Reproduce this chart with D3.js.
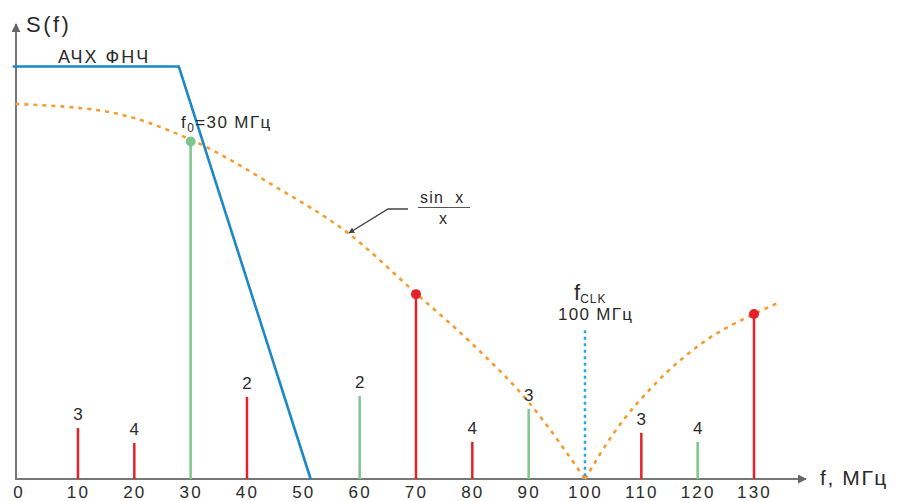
<!DOCTYPE html>
<html>
<head>
<meta charset="utf-8">
<script src="https://cdn.jsdelivr.net/npm/d3@7/dist/d3.min.js"></script>
<style>
  body { margin: 0; background: #fff; }
  svg { display: block; font-family: "Liberation Sans", Arial, sans-serif; }
</style>
</head>
<body>
<div id="chart"></div>
<script>
// ticks on the frequency axis, MHz
const tickFreq = [0, 10, 20, 30, 40, 50, 60, 70, 80, 90, 100, 110, 120, 130];

// spectral lines (relative amplitude, 1 = sin x / x at f = 0)
const stemFreq  = [10, 20, 30, 40, 60, 70, 80, 90, 110, 120, 130];
const stemValue = [0.136, 0.096, 0.90, 0.219, 0.221, 0.493, 0.099, 0.187, 0.123, 0.099, 0.44];
const stemKind  = ["r", "r", "g", "r", "g", "r", "r", "g", "r", "g", "r"];
const stemLabel = ["3", "4", "", "2", "2", "", "4", "3", "3", "4", ""];
const stemDot   = [false, false, true, false, false, true, false, false, false, false, true];

// sin x / x envelope
const sincFreq  = [-1.1, 15, 30, 45, 58, 70, 80, 90, 100, 105, 113, 122, 130, 134];
const sincValue = [1.0, 0.98, 0.905, 0.78, 0.655, 0.495, 0.36, 0.205, 0, 0.12, 0.262, 0.375, 0.44, 0.468];

// low-pass filter response (АЧХ ФНЧ)
const lpfFreq  = [-1.6, 27.9, 51.3];
const lpfValue = [1.1, 1.1, 0];

// clock marker
const clkFreq = 100;
const clkTop = 0.397;

const W = 898, H = 501;
const colors = { r: "#e3222a", g: "#7dc78f" };
const ink = "#2b2b2b";

const x = d3.scaleLinear().domain([-1, 130]).range([16, 754]);
const y = d3.scaleLinear().domain([0, 1]).range([479, 104]);

const svg = d3.select("#chart").append("svg").attr("width", W).attr("height", H);

const defs = svg.append("defs");
defs.append("marker")
  .attr("id", "axarrow")
  .attr("viewBox", "0 0 10 10")
  .attr("refX", 9).attr("refY", 5)
  .attr("markerWidth", 4.5).attr("markerHeight", 4.5)
  .attr("orient", "auto")
  .append("path").attr("d", "M0,0L10,5L0,10z").attr("fill", "#666");
defs.append("marker")
  .attr("id", "notearrow")
  .attr("viewBox", "0 0 10 10")
  .attr("refX", 9).attr("refY", 5)
  .attr("markerWidth", 6).attr("markerHeight", 6)
  .attr("markerUnits", "userSpaceOnUse")
  .attr("orient", "auto")
  .append("path").attr("d", "M0,0L10,5L0,10z").attr("fill", "#444");

const x0 = x.range()[0], y0 = y(0);

// axes lines with arrows
svg.append("line")
  .attr("x1", x0).attr("y1", y0).attr("x2", 806).attr("y2", y0)
  .attr("stroke", "#777").attr("stroke-width", 2)
  .attr("marker-end", "url(#axarrow)");
svg.append("line")
  .attr("x1", x0).attr("y1", y0 + 1).attr("x2", x0).attr("y2", 24)
  .attr("stroke", "#777").attr("stroke-width", 2)
  .attr("marker-end", "url(#axarrow)");

const xAxis = d3.axisBottom(x).tickValues(tickFreq).tickSize(0).tickPadding(7);
const xAxis_g = svg.append("g").attr("transform", `translate(0, ${y0})`).call(xAxis);
xAxis_g.select(".domain").remove();
xAxis_g.selectAll("text")
  .attr("font-size", 17)
  .attr("letter-spacing", 2.2)
  .attr("font-family", "Liberation Sans, Arial, sans-serif")
  .attr("fill", ink);
xAxis_g.selectAll(".tick").filter((d) => d === 0).select("text").attr("x", -3);

// sin x / x envelope, split at the null so the V stays sharp
const sinc = sincFreq.map((f, i) => [f, sincValue[i]]);
const line = d3.line().x((d) => x(d[0])).y((d) => y(d[1])).curve(d3.curveMonotoneX);
const sincParts = [sinc.filter((d) => d[0] <= clkFreq), sinc.filter((d) => d[0] >= clkFreq)];
svg.selectAll(".sinc")
  .data(sincParts)
  .enter()
  .append("path")
  .attr("class", "sinc")
  .attr("d", line)
  .attr("fill", "none")
  .attr("stroke", "#f49d30")
  .attr("stroke-width", 2.6)
  .attr("stroke-dasharray", "4 5");

// clock marker
svg.append("line")
  .attr("x1", x(clkFreq)).attr("x2", x(clkFreq))
  .attr("y1", y(clkTop)).attr("y2", y0)
  .attr("stroke", "#2aa6de").attr("stroke-width", 2.5)
  .attr("stroke-dasharray", "3 3.5");

// spectral lines
const stems = svg.selectAll(".stem")
  .data(stemFreq.map((f, i) => ({ f, v: stemValue[i], k: stemKind[i], label: stemLabel[i], dot: stemDot[i] })))
  .enter()
  .append("g")
  .attr("class", "stem");
stems.append("line")
  .attr("x1", (d) => x(d.f)).attr("x2", (d) => x(d.f))
  .attr("y1", y0).attr("y2", (d) => y(d.v))
  .attr("stroke", (d) => colors[d.k]).attr("stroke-width", 2.5);
stems.filter((d) => d.dot)
  .append("circle")
  .attr("cx", (d) => x(d.f)).attr("cy", (d) => y(d.v)).attr("r", 5)
  .attr("fill", (d) => colors[d.k]);
stems.filter((d) => d.label)
  .append("text")
  .attr("x", (d) => x(d.f)).attr("y", (d) => y(d.v) - 8)
  .attr("text-anchor", "middle")
  .attr("font-size", 17).attr("fill", ink)
  .text((d) => d.label);

// low-pass filter
svg.append("path")
  .datum(lpfFreq.map((f, i) => [f, lpfValue[i]]))
  .attr("d", d3.line().x((d) => x(d[0])).y((d) => y(d[1])))
  .attr("fill", "none")
  .attr("stroke", "#1c88c7")
  .attr("stroke-width", 2.6);

// texts
svg.append("text").attr("x", 26).attr("y", 32).attr("font-size", 22).attr("letter-spacing", 2.5).attr("fill", ink).text("S(f)");
svg.append("text").attr("x", 58).attr("y", 63).attr("font-size", 18).attr("letter-spacing", 2).attr("fill", ink).text("АЧХ ФНЧ");
svg.append("text").attr("x", 820).attr("y", 485).attr("font-size", 21).attr("letter-spacing", 1.6).attr("fill", ink).text("f, МГц");

const f0 = svg.append("text").attr("x", 181).attr("y", 128).attr("font-size", 17).attr("letter-spacing", 1.4).attr("fill", ink);
f0.append("tspan").text("f");
f0.append("tspan").attr("dy", 4).attr("font-size", 12).text("0");
f0.append("tspan").attr("dy", -4).text("=30 МГц");

const clk = svg.append("text").attr("x", 574).attr("y", 300).attr("font-size", 22).attr("fill", ink);
clk.append("tspan").text("f");
clk.append("tspan").attr("dy", 3).attr("font-size", 12).attr("letter-spacing", 1).text("CLK");
svg.append("text").attr("x", 558).attr("y", 320)
  .attr("font-size", 17).attr("letter-spacing", 1.3).attr("fill", ink).text("100 МГц");

// sin x / x note
svg.append("text").attr("x", 420).attr("y", 203).attr("font-size", 16).attr("letter-spacing", 1.2).attr("fill", ink).text("sin\u00a0\u00a0x");
svg.append("line").attr("x1", 418).attr("x2", 470).attr("y1", 207.5).attr("y2", 207.5).attr("stroke", "#555").attr("stroke-width", 1.2);
svg.append("text").attr("x", 443).attr("y", 224).attr("text-anchor", "middle").attr("font-size", 16).attr("fill", ink).text("x");
svg.append("path")
  .attr("d", "M408,209L388,209L349,233")
  .attr("fill", "none").attr("stroke", "#444").attr("stroke-width", 1.4)
  .attr("marker-end", "url(#notearrow)");
</script>
</body>
</html>
